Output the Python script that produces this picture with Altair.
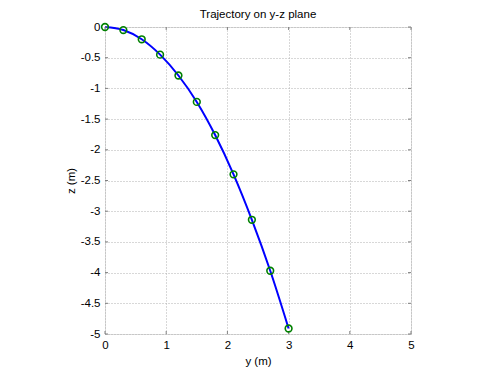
import altair as alt
import pandas as pd

# trajectory samples (markers)
y_pos = [0.0, 0.3, 0.6, 0.9, 1.2, 1.5, 1.8, 2.1, 2.4, 2.7, 3.0]
z_pos = [0.0, -0.05, -0.2, -0.45, -0.79, -1.22, -1.76, -2.40, -3.14, -3.97, -4.91]

x_ticks = [0, 1, 2, 3, 4, 5]
z_ticks = [0, -0.5, -1, -1.5, -2, -2.5, -3, -3.5, -4, -4.5, -5]

W, H = 306, 307

df = pd.DataFrame({"y": y_pos, "z": z_pos})
dx = pd.DataFrame({"t": x_ticks})
dz = pd.DataFrame({"t": z_ticks})

font = "Liberation Sans"

xscale = alt.Scale(domain=[0, 5], nice=False, zero=False)
zscale = alt.Scale(domain=[-5, 0], nice=False, zero=False)

xaxis = alt.Axis(values=x_ticks, title="y (m)", labelExpr="'' + datum.value",
                 grid=True, gridDash=[1, 2], gridColor="#b0b0b0", gridWidth=1,
                 domain=False, ticks=False, labelPadding=5, labelFontSize=11.5,
                 labelOverlap=False, labelFlush=False,
                 labelFont=font, labelColor="black", titleFont=font, titleFontSize=11.5,
                 titleFontWeight="normal", titleColor="black", titlePadding=5)
zaxis = alt.Axis(values=z_ticks, title="z (m)", labelExpr="'' + datum.value",
                 grid=True, gridDash=[1, 2], gridColor="#b0b0b0", gridWidth=1,
                 domain=False, ticks=False, labelPadding=5, labelFontSize=11.5,
                 labelOverlap=False, labelFlush=False,
                 labelFont=font, labelColor="black", titleFont=font, titleFontSize=11.5,
                 titleFontWeight="normal", titleColor="black", titlePadding=4)

line = alt.Chart(df).mark_line(color="#0000ff", strokeWidth=2, interpolate="monotone").encode(
    x=alt.X("y:Q", scale=xscale, axis=xaxis),
    y=alt.Y("z:Q", scale=zscale, axis=zaxis),
)
pts = alt.Chart(df).mark_point(shape="circle", filled=False, color="#008000",
                               strokeWidth=1.6, size=45, opacity=1).encode(
    x=alt.X("y:Q", scale=xscale, axis=xaxis),
    y=alt.Y("z:Q", scale=zscale, axis=zaxis),
)

tick_color = "#808080"
xt_bot = alt.Chart(dx).mark_rule(color=tick_color).encode(
    x=alt.X("t:Q", scale=xscale, axis=xaxis), y=alt.value(H), y2=alt.value(H - 3))
xt_top = alt.Chart(dx).mark_rule(color=tick_color).encode(
    x=alt.X("t:Q", scale=xscale, axis=xaxis), y=alt.value(0), y2=alt.value(3))
zt_left = alt.Chart(dz).mark_rule(color=tick_color).encode(
    y=alt.Y("t:Q", scale=zscale, axis=zaxis), x=alt.value(0), x2=alt.value(3))
zt_right = alt.Chart(dz).mark_rule(color=tick_color).encode(
    y=alt.Y("t:Q", scale=zscale, axis=zaxis), x=alt.value(W), x2=alt.value(W - 3))

chart = alt.layer(line, xt_bot, xt_top, zt_left, zt_right, pts).properties(
    width=W, height=H,
    title=alt.TitleParams("Trajectory on y-z plane", font=font, fontSize=11.5,
                          fontWeight="normal", color="black", offset=0, frame="group"),
    autosize=alt.AutoSizeParams(type="none"),
    padding={"left": 97, "top": 19, "right": 70, "bottom": 40},
).configure_view(stroke="#808080", strokeWidth=1).configure(background="white")

chart.save("out.html", embed_options={"renderer": "svg", "actions": False})
